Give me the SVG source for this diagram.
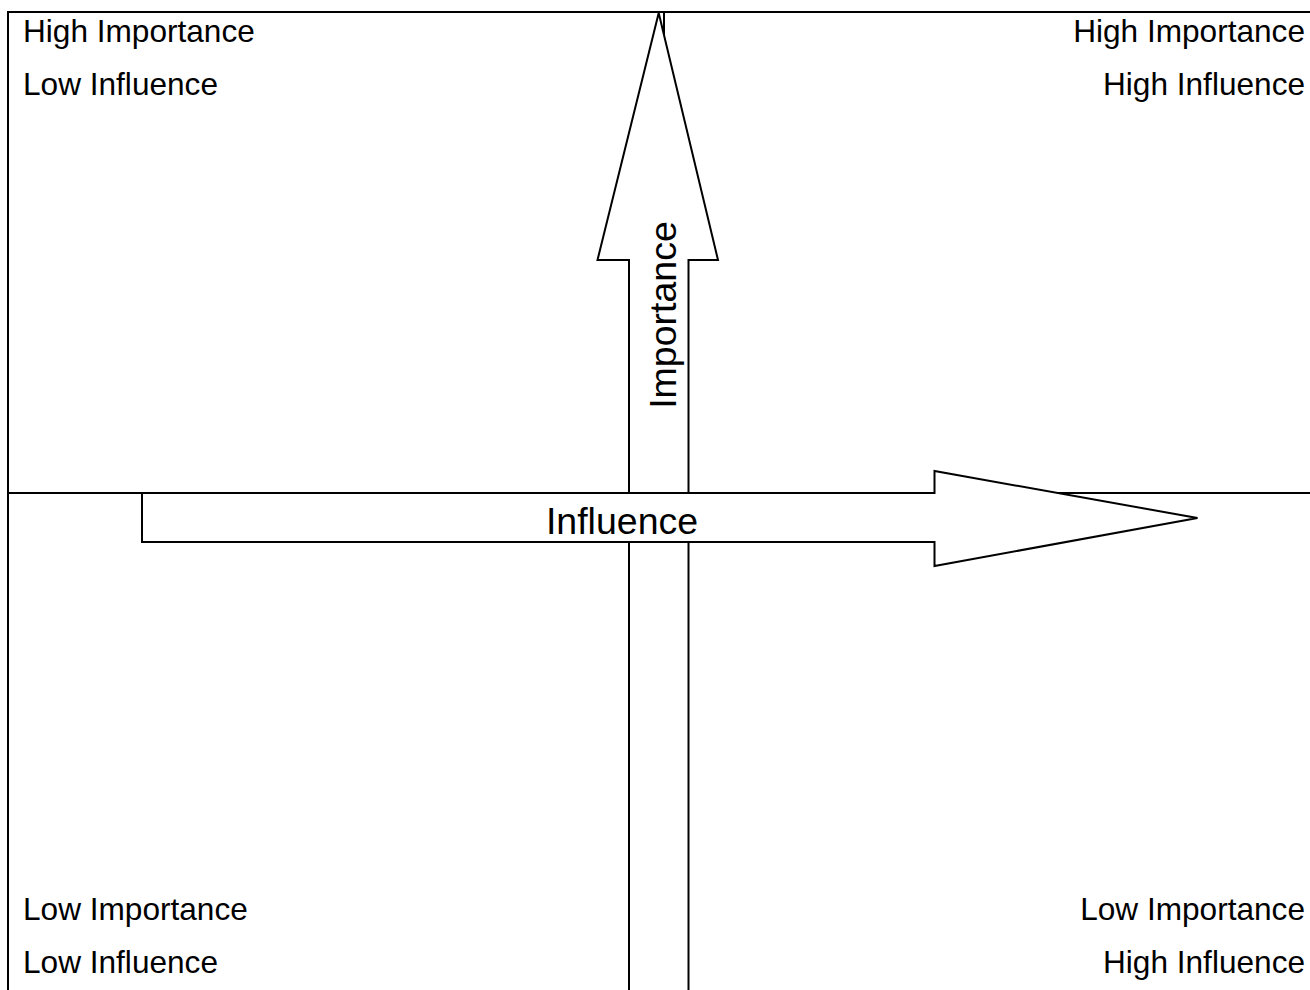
<svg xmlns="http://www.w3.org/2000/svg" width="1310" height="990" viewBox="0 0 1310 990">
<style>
.ln{stroke:#000;stroke-width:2;fill:none}
.arrow{fill:#fff;stroke:#000;stroke-width:2;stroke-linejoin:miter}
.lbl{font-family:"Liberation Sans",Arial,sans-serif;font-size:31.6px;fill:#000}
.ax{font-family:"Liberation Sans",Arial,sans-serif;font-size:37.5px;fill:#000}
</style>
<rect width="1310" height="990" fill="#fff"/>
<g id="frame">
<line class="ln" x1="8" y1="12" x2="1310" y2="12"/>
<line class="ln" x1="8" y1="11" x2="8" y2="990"/>
<line class="ln" x1="8" y1="493" x2="1310" y2="493"/>
<line class="ln" x1="664" y1="12" x2="664" y2="990"/>
</g>
<g id="connectors">
<g id="importance-axis">
<polygon class="arrow" points="658.7,13 718,260 688.5,260 688.5,1000 629,1000 629,260 597.5,260"/>
<text class="ax" transform="translate(675.5,315) rotate(-90)" text-anchor="middle">Importance</text>
</g>
<g id="influence-axis">
<polygon class="arrow" points="142,493 934.5,493 934.5,471 1197.5,518 934.5,566 934.5,542 142,542"/>
<text class="ax" x="622" y="534" text-anchor="middle">Influence</text>
</g>
</g>
<g id="q-top-left">
<text class="lbl" x="23" y="42">High Importance</text>
<text class="lbl" x="23" y="95">Low Influence</text>
</g>
<g id="q-top-right">
<text class="lbl" x="1305" y="42" text-anchor="end">High Importance</text>
<text class="lbl" x="1305" y="95" text-anchor="end">High Influence</text>
</g>
<g id="q-bottom-left">
<text class="lbl" x="23" y="920">Low Importance</text>
<text class="lbl" x="23" y="973">Low Influence</text>
</g>
<g id="q-bottom-right">
<text class="lbl" x="1305" y="920" text-anchor="end">Low Importance</text>
<text class="lbl" x="1305" y="973" text-anchor="end">High Influence</text>
</g>
</svg>
